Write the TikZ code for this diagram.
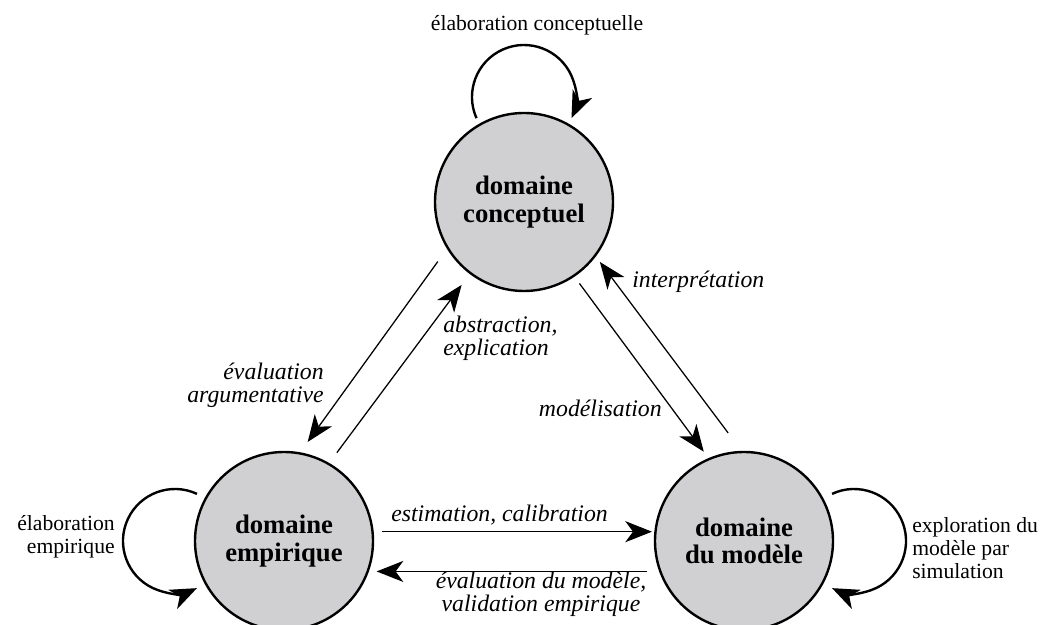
\documentclass[tikz,border=0pt]{standalone}
\usepackage{fontspec}
\setmainfont{Liberation Serif}
\usetikzlibrary{arrows.meta}
\definecolor{domgray}{RGB}{208,208,210}

\begin{document}
\begin{tikzpicture}[
    domnode/.style={circle, draw, line width=1.7pt, fill=domgray, minimum size=4.45cm,
        inner sep=0pt, outer sep=0pt, align=center, font=\fontsize{19}{19.5}\selectfont\bfseries},
    flow/.style={line width=0.9pt, -{Stealth[length=19pt,width=15pt,inset=5.5pt]}},
    selfloop/.style={line width=1.7pt, -{Stealth[length=19pt,width=15pt,inset=5.5pt]}},
    flowlbl/.style={inner sep=0pt, font=\fontsize{16.9}{16.9}\selectfont\itshape},
    looplbl/.style={inner sep=0pt, font=\fontsize{15.4}{16.7}\selectfont}
]
\useasboundingbox (0,0) rectangle (26.325,15.625);

\node[domnode] (conc) at (13.1, 10.575) {domaine\\conceptuel}; % domaine conceptuel
\node[domnode] (emp) at (7.1, 2.1) {domaine\\empirique}; % domaine empirique
\node[domnode] (mod) at (18.6, 2.1) {domaine\\du modèle}; % domaine du modele

\draw[selfloop] ([shift={(-1.188,2.096)}]conc.center) arc[start angle=204, end angle=-24, radius=1.3]; % loop.conc
\draw[selfloop] ([shift={(-2.176,1.178)}]emp.center) arc[start angle=65, end angle=295, radius=1.3]; % loop.emp
\draw[selfloop] ([shift={(2.201,1.178)}]mod.center) arc[start angle=115, end angle=-115, radius=1.3]; % loop.mod

\draw[flow, shorten <=12pt, shorten >=10pt] (conc.211) -- (emp.80); % conc->emp
\draw[flow, shorten <=10pt, shorten >=10.5pt] (emp.60) -- (conc.233); % emp->conc
\draw[flow, shorten <=6.8pt, shorten >=6.5pt] (conc.304.5) -- (mod.113.6); % conc->mod
\draw[flow, shorten <=17pt, shorten >=5.7pt] (mod.91) -- (conc.323); % mod->conc
\draw[flow, shorten <=6.8pt, shorten >=2.5pt] (emp.6) -- (mod.174); % emp->mod
\draw[flow, shorten <=9.2pt, shorten >=6.4pt] (mod.200) -- (emp.340); % mod->emp

\node[looplbl, anchor=base] (lconc) at (13.425, 14.85) {élaboration conceptuelle};
\node[looplbl, anchor=base east, align=right] (lemp) at (2.875, 1.775) {élaboration\\empirique};
\node[looplbl, anchor=base west, align=left] (lmod) at (22.8, 1.15) {exploration du\\modèle par\\simulation};
\node[flowlbl, anchor=base east, align=right] (leval) at (8.1, 5.55) {évaluation\\argumentative};
\node[flowlbl, anchor=base west, align=left] (labs) at (11.075, 6.725) {abstraction,\\explication};
\node[flowlbl, anchor=base west] (lint) at (15.8, 8.425) {interprétation};
\node[flowlbl, anchor=base east] (lmodel) at (16.55, 5.2) {modélisation};
\node[flowlbl, anchor=base west] (lest) at (9.775, 2.575) {estimation, calibration};
\node[flowlbl, anchor=base, align=center] (lval) at (13.525, 0.33) {évaluation du modèle,\\validation empirique};
\end{tikzpicture}
\end{document}
